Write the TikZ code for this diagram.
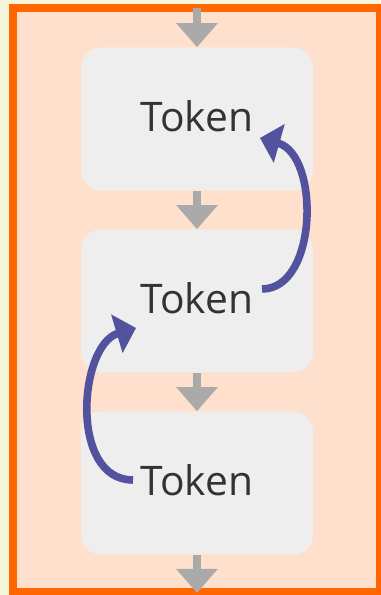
\documentclass[tikz,border=0pt]{standalone}
\usepackage{fontspec}
\setmainfont{Open Sans}
\usetikzlibrary{arrows.meta}
\definecolor{pagebg}{HTML}{F6F6DC}
\definecolor{frameorange}{HTML}{FF6600}
\definecolor{framefill}{HTML}{FFE0CC}
\definecolor{tokenfill}{HTML}{EEEEEE}
\definecolor{tokentext}{HTML}{333333}
\definecolor{flowgray}{HTML}{AAAAAA}
\definecolor{linkblue}{HTML}{52529E}
\tikzset{
    token/.style={rectangle, rounded corners=0.5cm, fill=tokenfill,
    	minimum width=5.8cm, minimum height=3.575cm, text=tokentext,
    	font=\fontsize{29}{34}\selectfont, text depth=0.15cm}
}
\tikzset{
    flow/.style={draw=flowgray, line width=0.2cm,
    	-{Triangle[width=1cm, length=0.6cm]}}
}
\tikzset{
    link/.style={draw=linkblue, line width=0.19cm,
    	-{Triangle[width=0.98cm, length=0.5cm]}}
}
\begin{document}
\begin{tikzpicture}
	\useasboundingbox (0cm, 0cm) rectangle (9.5cm, 14.875cm);
	\fill [pagebg] (0cm, 0cm) rectangle (9.5cm, 14.875cm);
	\draw [frameorange, fill=framefill, line width=0.2cm]
		(0.325cm, 0.075cm) rectangle (9.5cm, 14.675cm);
	
	\node (tok1) [token] at (4.925cm, 11.9cm) {Token};
	\node (tok2) [token] at (4.925cm, 7.35cm) {Token};
	\node (tok3) [token] at (4.925cm, 2.8cm) {Token};
	\coordinate (in) at (4.925cm, 14.675cm);
	\coordinate (out) at (4.925cm, 0.05cm);
	
	\draw [flow] (in) -- (tok1); \draw [flow] (tok1) -- (tok2);
	\draw [flow] (tok2) -- (tok3); \draw [flow] (tok3) -- (out);
	
	\coordinate (l1s) at (6.55cm, 7.65cm);
	\coordinate (l1e) at (6.5cm, 11.425cm);
	\coordinate (l2s) at (3.325cm, 2.875cm);
	\coordinate (l2e) at (3.4cm, 6.675cm);
	\draw [link] (l1s) .. controls (7.95cm, 7.65cm) and (8.0cm, 11.0cm) .. (l1e);
	\draw [link] (l2s) .. controls (1.72cm, 2.875cm) and (1.975cm, 6.25cm) .. (l2e);
\end{tikzpicture}
\end{document}
